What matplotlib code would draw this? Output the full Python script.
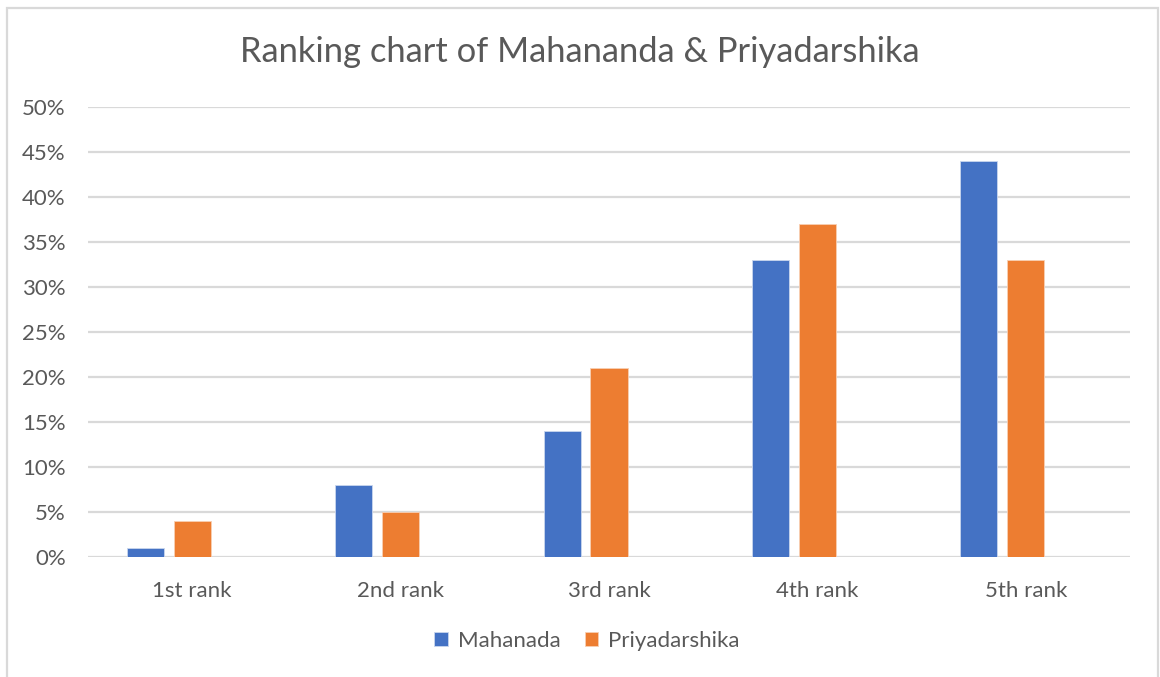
## ranking chart ##
import matplotlib.pyplot as plt
import numpy as np
from matplotlib.patches import Rectangle

ranks = ['1st rank', '2nd rank', '3rd rank', '4th rank', '5th rank']
mahanada = [1, 8, 14, 33, 44]
priyadarshika = [4, 5, 21, 37, 33]
yticks = [0, 5, 10, 15, 20, 25, 30, 35, 40, 45, 50]

plt.rcParams['font.family'] = ['Lato', 'DejaVu Sans']

fig = plt.figure(figsize=(11.6, 6.77), dpi=100)
ax = fig.add_axes([88/1160, 120/677, 1042/1160, 450/677])

x = np.arange(len(ranks))
w = 0.178
ax.bar(x - 0.225, mahanada, w, color='#4472C4', edgecolor='#c9d6ee', linewidth=0.6, label='Mahanada', zorder=3)
ax.bar(x, priyadarshika, w, color='#ED7D31', edgecolor='#f8cfb3', linewidth=0.6, label='Priyadarshika', zorder=3)

ax.set_xlim(-0.5, len(ranks) - 0.5)
ax.set_ylim(0, 50)
ax.set_yticks(yticks)
ax.set_yticklabels([str(t) + '%' for t in yticks])
ax.set_xticks(x)
ax.set_xticklabels(ranks)
ax.tick_params(length=0, labelsize=16, colors='#595959')
ax.tick_params(axis='x', pad=17)
ax.tick_params(axis='y', pad=16)
ax.grid(axis='y', color='#d9d9d9', linewidth=1.6, zorder=0)
for s in ax.spines.values():
    s.set_visible(False)

fig.text(0.5, 1 - 52/677, 'Ranking chart of Mahananda & Priyadarshika', ha='center', va='center',
         fontsize=24.8, color='#595959')

fig.legend(loc='center', bbox_to_anchor=(587/1160, 1 - 641/677), ncol=2, frameon=False,
           fontsize=16, labelcolor='#595959', handlelength=0.6, handleheight=0.6,
           handletextpad=0.45, columnspacing=1.1)

# grey frame round the chart
fig.patches.append(Rectangle((7/1160, -0.02), 1151/1160, 1.02 - 8/677, transform=fig.transFigure,
                             fill=False, edgecolor='#d9d9d9', linewidth=1.6))

plt.savefig('out.png', dpi=100)
